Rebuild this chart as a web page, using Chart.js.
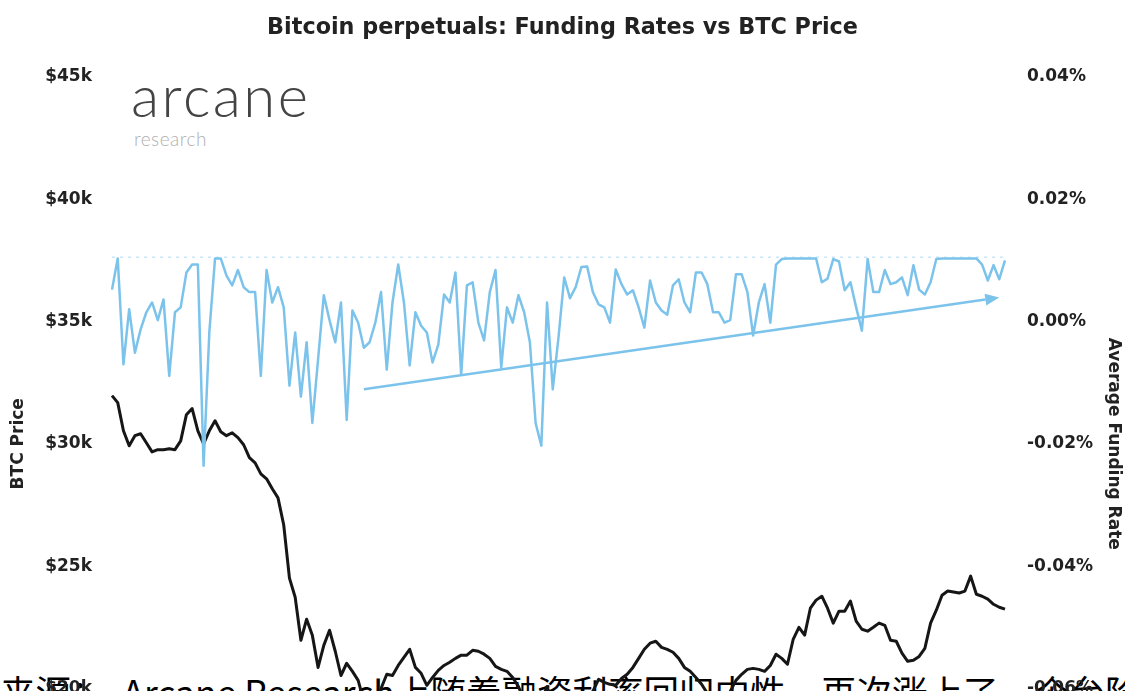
<!DOCTYPE html>
<html>
<head>
<meta charset="utf-8">
<script src="https://cdn.jsdelivr.net/npm/chart.js@4.4.0/dist/chart.umd.min.js"></script>
<style>
  html, body { margin: 0; padding: 0; background: #fff; overflow: hidden; width: 1125px; height: 691px; }
  #wrap { position: absolute; left: 0; top: 0; width: 1125px; height: 843px; z-index: 2; }
  .logo { position: absolute; left: 131px; top: 66px; font-family: Lato, sans-serif; font-weight: 300; font-size: 58px; line-height: 1; color: #444; letter-spacing: 2.5px; }
  .logo-sub { position: absolute; left: 134px; top: 129px; font-family: Lato, sans-serif; font-weight: 300; font-size: 19px; line-height: 1; color: #b0b0b0; letter-spacing: 0.5px; }
  .caption { position: absolute; left: 0; top: 671px; z-index: 1; font-family: "Noto Sans CJK SC", sans-serif; font-size: 35.5px; line-height: 40px; color: #000; white-space: pre; }
</style>
</head>
<body>
<div class="caption">来源：  Arcane Research上随着融资利率回归中性，再次涨上了一个台阶</div>
<div class="logo">arcane</div>
<div class="logo-sub">research</div>
<div id="wrap"><canvas id="chart"></canvas></div>
<script>
// Average funding rate (%), one value every 12h
const FUNDING = [
  0.0052, 0.0103, -0.0070, 0.0020, -0.0051, -0.0013, 0.0015, 0.0031, 0.0002, 0.0036,
  -0.0089, 0.0015, 0.0023, 0.0080, 0.0093, 0.0093, -0.0236, -0.0018, 0.0103, 0.0103,
  0.0075, 0.0059, 0.0084, 0.0056, 0.0048, 0.0048, -0.0089, 0.0084, 0.0031, 0.0056,
  0.0023, -0.0105, -0.0018, -0.0123, -0.0034, -0.0166, -0.0062, 0.0043, 0.0002, -0.0034,
  0.0031, -0.0161, 0.0018, -0.0002, -0.0043, -0.0034, -0.0002, 0.0048, -0.0079, 0.0031,
  0.0093, 0.0031, -0.0072, 0.0015, -0.0007, -0.0018, -0.0067, -0.0038, 0.0044, 0.0031,
  0.0080, -0.0087, 0.0059, 0.0064, -0.0002, -0.0031, 0.0048, 0.0084, -0.0075, 0.0023,
  -0.0002, 0.0043, 0.0015, -0.0034, -0.0166, -0.0203, 0.0031, -0.0111, -0.0026, 0.0072,
  0.0038, 0.0056, 0.0089, 0.0090, 0.0048, 0.0028, 0.0023, -0.0002, 0.0085, 0.0061,
  0.0044, 0.0051, 0.0023, -0.0010, 0.0067, 0.0031, 0.0018, 0.0011, 0.0059, 0.0069,
  0.0031, 0.0015, 0.0080, 0.0080, 0.0061, 0.0015, 0.0015, -0.0002, 0.0002, 0.0077,
  0.0077, 0.0048, -0.0023, 0.0031, 0.0061, -0.0002, 0.0093, 0.0102, 0.0103, 0.0103,
  0.0103, 0.0103, 0.0103, 0.0103, 0.0064, 0.0070, 0.0102, 0.0098, 0.0051, 0.0064,
  0.0023, -0.0015, 0.0102, 0.0048, 0.0048, 0.0084, 0.0061, 0.0064, 0.0072, 0.0043,
  0.0092, 0.0052, 0.0044, 0.0064, 0.0102, 0.0103, 0.0103, 0.0103, 0.0103, 0.0103,
  0.0103, 0.0103, 0.0093, 0.0067, 0.0092, 0.0069, 0.0100
];

// BTC price (USD), same timestamps
const PRICE = [
  31970, 31680, 30530, 29920, 30330, 30410, 30040, 29670, 29760, 29760,
  29800, 29760, 30120, 31190, 31440, 30530, 30000, 30530, 30940, 30490,
  30330, 30450, 30250, 29960, 29430, 29220, 28770, 28570, 28160, 27790,
  26680, 24510, 23730, 21970, 22830, 22170, 20860, 21760, 22380, 21520,
  20530, 21030, 20700, 20330, 19470, 19060, 19260, 20000, 20580, 20530,
  20940, 21270, 21600, 20860, 20620, 20130, 20450, 20740, 20940, 21070,
  21230, 21360, 21360, 21560, 21520, 21400, 21230, 20900, 20780, 20700,
  20450, 20080, 19510, 19180, 19310, 19510, 20080, 19390, 19140, 19060,
  19220, 19390, 19310, 19670, 19880, 20370, 20250, 20170, 20130, 20410,
  20580, 20860, 21230, 21600, 21850, 21930, 21680, 21600, 21480, 21230,
  20860, 20700, 20450, 20170, 19800, 19470, 19260, 19350, 19880, 20330,
  20580, 20780, 20820, 20780, 20700, 20940, 21400, 21230, 20990, 22010,
  22500, 22180, 23280, 23610, 23770, 23280, 22670, 23160, 23160, 23570,
  22750, 22420, 22340, 22500, 22670, 22580, 21970, 21930, 21440, 21110,
  21150, 21310, 21640, 22670, 23200, 23810, 23980, 23940, 23900, 23980,
  24590, 23850, 23770, 23650, 23440, 23320, 23240
];

const PRICE_TICKS = [15000, 20000, 25000, 30000, 35000, 40000, 45000];
const RATE_TICKS = [-0.08, -0.06, -0.04, -0.02, 0, 0.02, 0.04];

const FUNDING_REF = 0.0105;          // dotted reference level
const TREND_FROM = [44, -0.0111];    // [point index, funding %]
const TREND_TO = [155, 0.0039];

const START = Date.UTC(2022, 4, 31);
const LABELS = FUNDING.map((_, i) => new Date(START + i * 12 * 3600e3).toISOString().slice(0, 13));

const BLUE = '#7cc3ec';
const INK = '#222';
const FONT = 'DejaVu Sans';

const overlay = {
  id: 'overlay',
  beforeDatasetsDraw(chart) {
    const { ctx, chartArea, scales } = chart;
    const y = scales.yRate.getPixelForValue(FUNDING_REF);
    ctx.save();
    ctx.strokeStyle = '#cde6f7';
    ctx.lineWidth = 1.5;
    ctx.setLineDash([3, 5]);
    ctx.beginPath();
    ctx.moveTo(chartArea.left, y);
    ctx.lineTo(chartArea.right, y);
    ctx.stroke();
    ctx.restore();
  },
  afterDatasetsDraw(chart) {
    // trend arrow across the funding series
    const { ctx, scales } = chart;
    const x0 = scales.x.getPixelForValue(TREND_FROM[0]);
    const y0 = scales.yRate.getPixelForValue(TREND_FROM[1]);
    const x1 = scales.x.getPixelForValue(TREND_TO[0]);
    const y1 = scales.yRate.getPixelForValue(TREND_TO[1]);
    const a = Math.atan2(y1 - y0, x1 - x0);
    const head = 14, half = 6;
    const bx = x1 - head * Math.cos(a), by = y1 - head * Math.sin(a);
    ctx.save();
    ctx.strokeStyle = BLUE;
    ctx.fillStyle = BLUE;
    ctx.lineWidth = 2.5;
    ctx.beginPath();
    ctx.moveTo(x0, y0);
    ctx.lineTo(bx, by);
    ctx.stroke();
    ctx.beginPath();
    ctx.moveTo(x1, y1);
    ctx.lineTo(bx + half * Math.sin(a), by - half * Math.cos(a));
    ctx.lineTo(bx - half * Math.sin(a), by + half * Math.cos(a));
    ctx.closePath();
    ctx.fill();
    ctx.restore();
  }
};

new Chart(document.getElementById('chart'), {
  type: 'line',
  data: {
    labels: LABELS,
    datasets: [
      {
        label: 'Average Funding Rate',
        data: FUNDING,
        yAxisID: 'yRate',
        borderColor: BLUE,
        borderWidth: 2.5,
        pointRadius: 0,
        tension: 0,
        borderJoinStyle: 'round',
      },
      {
        label: 'BTC Price',
        data: PRICE,
        yAxisID: 'yPrice',
        borderColor: '#161616',
        borderWidth: 3,
        pointRadius: 0,
        tension: 0,
        borderJoinStyle: 'round',
      },
    ],
  },
  options: {
    responsive: true,
    maintainAspectRatio: false,
    animation: false,
    layout: { padding: 0 },
    plugins: {
      legend: { display: false },
      tooltip: { enabled: false },
      title: {
        display: true,
        text: 'Bitcoin perpetuals: Funding Rates vs BTC Price',
        color: INK,
        font: { family: FONT, size: 22.3, weight: 'bold' },
        padding: { top: 15, bottom: 35 },
      },
    },
    scales: {
      x: { display: false },
      yPrice: {
        position: 'left',
        min: 15000,
        max: 45000,
        afterBuildTicks: s => { s.ticks = PRICE_TICKS.map(v => ({ value: v })); },
        afterFit: s => { s.width = 112; },
        grid: { display: false, drawTicks: false },
        border: { display: false },
        ticks: {
          padding: 20,
          color: INK,
          font: { family: FONT, size: 17, weight: 'bold' },
          callback: v => '$' + v / 1000 + 'k',
        },
        title: {
          display: true,
          text: 'BTC Price',
          color: INK,
          font: { family: FONT, size: 17, weight: 'bold' },
          padding: { top: 8, bottom: 0 },
        },
      },
      yRate: {
        position: 'right',
        min: -0.08,
        max: 0.04,
        afterBuildTicks: s => { s.ticks = RATE_TICKS.map(v => ({ value: v })); },
        afterFit: s => { s.width = 120; },
        grid: { display: false, drawTicks: false },
        border: { display: false },
        ticks: {
          padding: 22,
          color: INK,
          font: { family: FONT, size: 17, weight: 'bold' },
          callback: v => Number(v).toFixed(2) + '%',
        },
        title: {
          display: true,
          text: 'Average Funding Rate',
          color: INK,
          font: { family: FONT, size: 17, weight: 'bold' },
          padding: { top: 1, bottom: 0 },
        },
      },
    },
  },
  plugins: [overlay],
});
</script>
</body>
</html>
